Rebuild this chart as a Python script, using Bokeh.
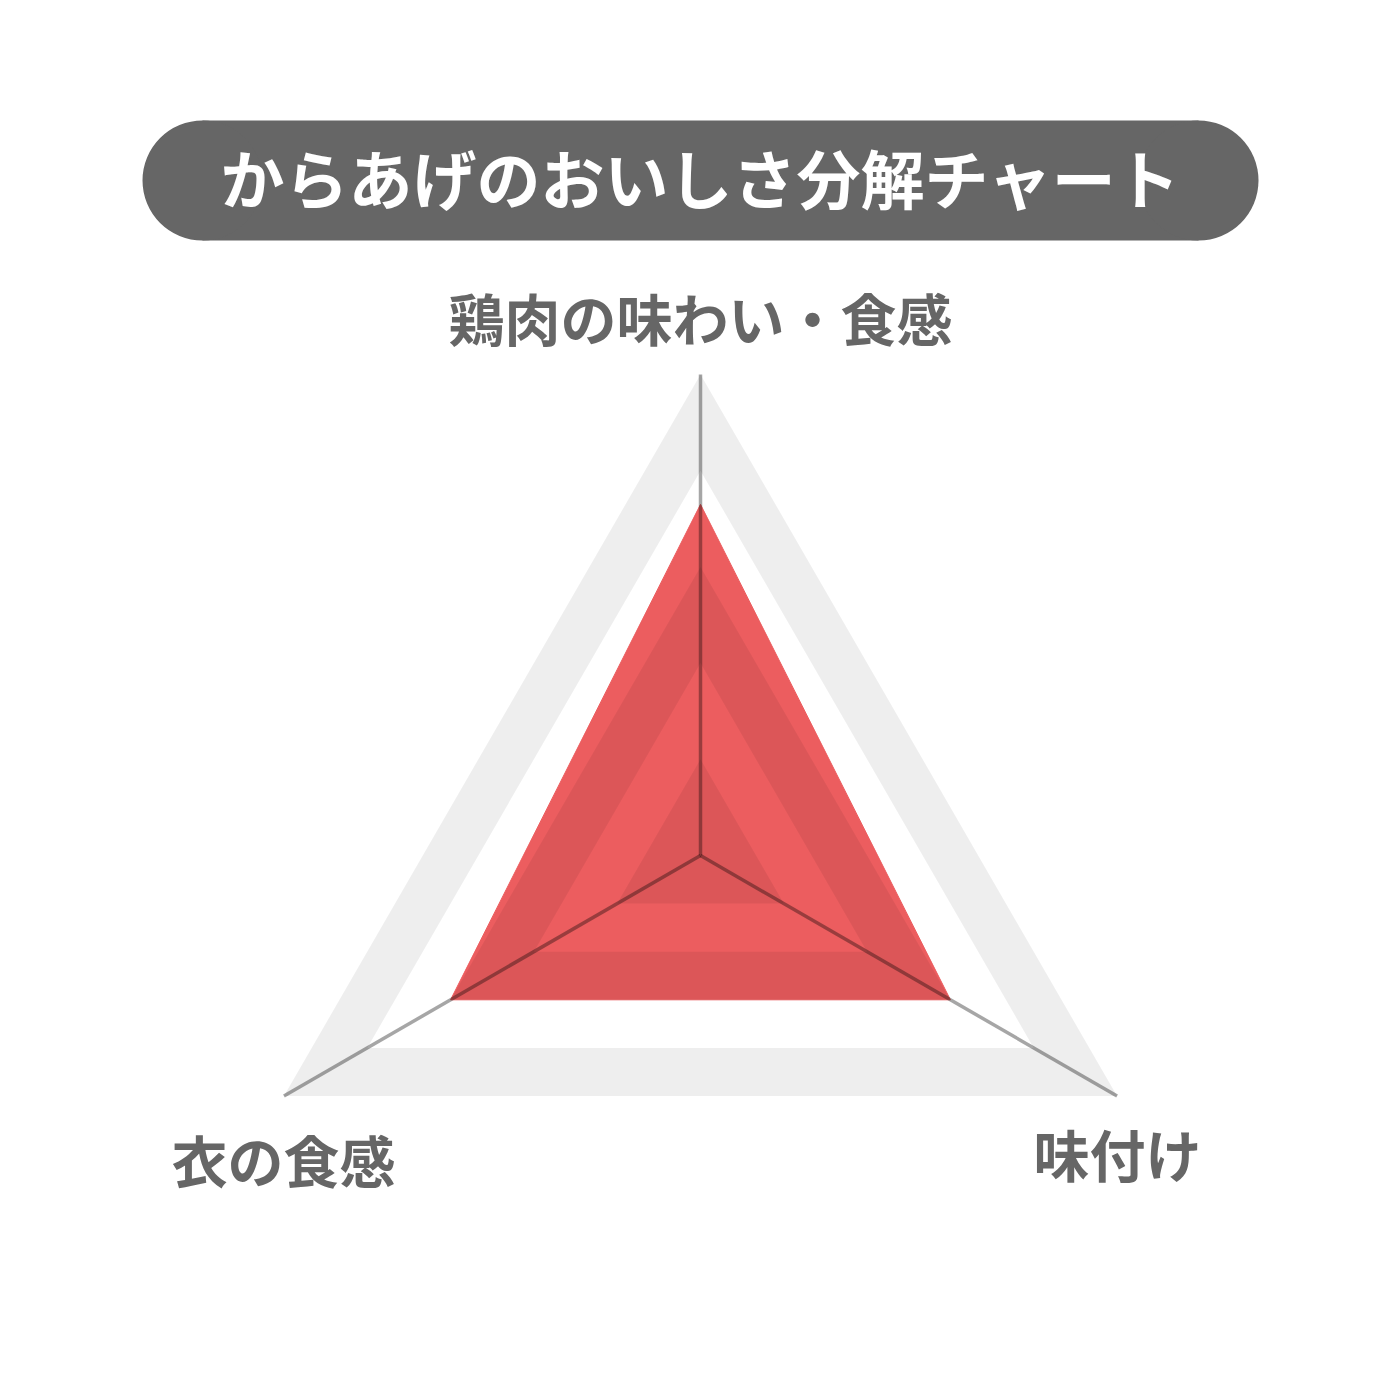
import numpy as np
from bokeh.core.properties import value
from bokeh.embed import file_html
from bokeh.models import Range1d
from bokeh.plotting import figure
from bokeh.resources import INLINE

# radar data
categories = ["鶏肉の味わい・食感", "味付け", "衣の食感"]
scores = [3.65, 3.0, 3.0]
max_score = 5
split_levels = [0, 1, 2, 3, 4, 5]
title_text = "からあげのおいしさ分解チャート"

cx, cy, R = 700, 855, 481
FONT = value("Noto Sans CJK JP")

p = figure(width=1384, height=1384, output_backend="svg", toolbar_location=None,
           x_range=Range1d(0, 1384), y_range=Range1d(1384, 0), min_border=0)
p.axis.visible = False
p.grid.visible = False
p.outline_line_color = None
p.background_fill_color = "white"


def vertices(frac):
    # top first, then clockwise (screen y points down)
    ang = np.radians([90, -30, 210])
    return list(cx + R * frac * np.cos(ang)), list(cy - R * frac * np.sin(ang))


# red score polygon
sx, sy = vertices(np.array(scores) / max_score)
p.patch(sx, sy, fill_color="#EC5D5F", line_color="#EC5D5F", line_width=1)

# alternating split areas, drawn on top as a light darkening
xs, ys = [], []
for i in range(0, len(split_levels) - 1, 2):
    ox, oy = vertices(split_levels[i + 1] / max_score)
    if split_levels[i] == 0:
        xs.append([[ox]])
        ys.append([[oy]])
    else:
        ix, iy = vertices(split_levels[i] / max_score)
        xs.append([[ox, ix]])
        ys.append([[oy, iy]])
p.multi_polygons(xs, ys, fill_color="black", fill_alpha=0.067, line_color=None)

# axis spokes
ox, oy = vertices(1.0)
p.segment([cx] * 3, [cy] * 3, ox, oy, line_color="black", line_alpha=0.35, line_width=3.5)

# axis labels
label_x = [700, 1117, 283]
label_y = [316, 1152, 1158]
p.text(label_x, label_y, text=categories, text_font=FONT, text_font_style="bold",
       text_font_size="56px", text_color="#666666", text_align="center",
       text_baseline="middle")

# title pill
p.quad(left=[202], right=[1198], top=[120], bottom=[240], fill_color="#666666", line_color=None)
p.circle([202, 1198], [180, 180], radius=60, fill_color="#666666", line_color=None)
p.text([700], [175], text=[title_text], text_font=FONT, text_font_style="bold",
       text_font_size="64px", text_color="white", text_align="center",
       text_baseline="middle")

open("out.html", "w").write(file_html(p, INLINE))
